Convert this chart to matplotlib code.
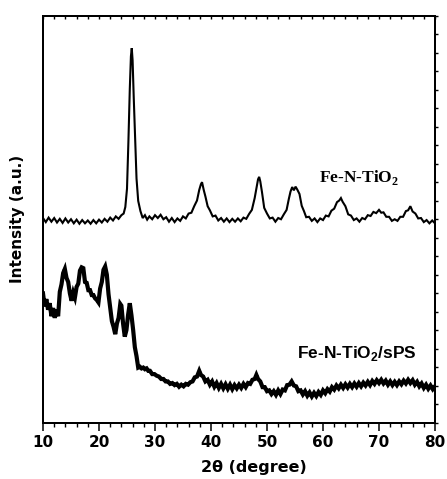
import matplotlib
matplotlib.use("Agg")
import matplotlib.pyplot as plt
from matplotlib.ticker import MultipleLocator

# XRD pattern of Fe-N-TiO2 (2theta in degrees, intensity in a.u.)
two_theta_tio2 = [
    10.0, 10.5, 11.0, 11.5, 12.0, 12.5, 13.0, 13.5, 14.0, 14.5, 15.0, 15.5, 16.0, 16.5,
    17.0, 17.5, 18.0, 18.5, 19.0, 19.5, 20.0, 20.5, 21.0, 21.5, 22.0, 22.5, 23.0, 23.5,
    24.0, 24.4, 24.7, 25.0, 25.25, 25.5, 25.7, 25.85, 26.0, 26.2, 26.45, 26.7, 27.0, 27.4,
    27.8, 28.2, 28.6, 29.0,
    29.5, 30.0, 30.5, 31.0, 31.5, 32.0, 32.5, 33.0, 33.5, 34.0, 34.5, 35.0, 35.5, 36.0,
    36.5, 37.0, 37.5,
    37.9, 38.2, 38.4, 38.7, 39.0, 39.4, 39.8,
    40.3, 40.8, 41.3, 41.8, 42.3, 42.8, 43.3, 43.8, 44.3, 44.8, 45.3, 45.8, 46.3, 46.8,
    47.3, 47.8,
    48.1, 48.4, 48.6, 48.8, 49.1, 49.5,
    50.0, 50.5, 51.0, 51.5, 52.0, 52.5, 53.0, 53.5,
    53.9, 54.2, 54.5, 54.8, 55.1, 55.4, 55.8, 56.2, 56.6,
    57.0, 57.5, 58.0, 58.5, 59.0, 59.5, 60.0, 60.5, 61.0, 61.5, 62.0, 62.5,
    62.9, 63.2, 63.5,
    64.0, 64.5, 65.0, 65.5, 66.0, 66.5, 67.0, 67.5, 68.0, 68.5, 69.0, 69.5, 70.0,
    70.4, 70.8,
    71.3, 71.8, 72.3, 72.8, 73.3, 73.8, 74.3, 74.8,
    75.2, 75.6,
    76.0, 76.5, 77.0, 77.5, 78.0, 78.5, 79.0, 79.5, 80.0,
]
intensity_tio2 = [
    503, 493, 504, 494, 503, 492, 501, 491, 502, 492, 500, 490, 499, 489,
    498, 490, 497, 489, 498, 490, 499, 492, 501, 494, 504, 497, 507, 501,
    510, 514, 530, 575, 690, 820, 900, 920, 890, 800, 700, 600, 545, 520,
    503, 510, 499, 507,
    500, 510, 503, 511, 500, 505, 494, 503, 493, 502, 496, 507, 502, 514,
    516, 532, 546,
    572, 586, 591, 572, 556, 532, 522,
    507, 509, 497, 503, 494, 502, 493, 501, 494, 502, 495, 504, 501, 513,
    523, 552,
    575, 598, 604, 593, 567, 528,
    514, 502, 504, 494, 503, 500, 512, 523,
    550, 568, 579, 571, 580, 573, 562, 533, 520,
    505, 506, 496, 502, 493, 502, 498, 509, 507, 521, 526, 542,
    546, 552, 543,
    532, 512, 509, 498, 502, 494, 503, 500, 510, 508, 518, 515, 523,
    516, 517,
    506, 506, 496, 500, 496, 506, 506, 520,
    522, 532,
    519, 514, 502, 503, 493, 498, 490, 497, 490,
]

# XRD pattern of the Fe-N-TiO2/sPS composite
two_theta_sps = [
    10.0, 10.3, 10.6, 10.9, 11.2, 11.5, 11.8, 12.1, 12.4, 12.7, 13.0, 13.3, 13.6, 13.9,
    14.2, 14.5, 14.8, 15.1, 15.4, 15.7, 16.0, 16.3, 16.6, 16.9, 17.2, 17.5, 17.8, 18.1,
    18.4, 18.7, 19.0, 19.3, 19.6, 19.9, 20.2, 20.5, 20.8, 21.1, 21.4, 21.7, 22.0, 22.3,
    22.6, 22.9, 23.2, 23.5, 23.8, 24.0, 24.3, 24.6, 24.9, 25.2, 25.5, 25.8, 26.1, 26.4,
    26.7, 27.0, 27.3, 27.6, 27.9, 28.2, 28.5, 28.8, 29.1, 29.5, 29.9, 30.3, 30.7, 31.1,
    31.5, 31.9, 32.3, 32.7, 33.1, 33.5, 33.9, 34.3, 34.7, 35.1, 35.5, 35.9, 36.3, 36.7,
    37.1, 37.5, 37.9, 38.2, 38.6, 39.0, 39.4, 39.8, 40.2, 40.6, 41.0, 41.4, 41.8, 42.2,
    42.6, 43.0, 43.4, 43.8, 44.2, 44.6, 45.0, 45.4, 45.8, 46.2, 46.6, 47.0, 47.4, 47.8,
    48.1, 48.4, 48.8, 49.2, 49.6, 50.0, 50.4, 50.8, 51.2, 51.6, 52.0, 52.4, 52.8, 53.2,
    53.6, 54.0, 54.4, 54.8, 55.2, 55.6, 56.0, 56.4, 56.8, 57.2, 57.6, 58.0, 58.4, 58.8,
    59.2, 59.6, 60.0, 60.4, 60.8, 61.2, 61.6, 62.0, 62.4, 62.8, 63.2, 63.6, 64.0, 64.4,
    64.8, 65.2, 65.6, 66.0, 66.4, 66.8, 67.2, 67.6, 68.0, 68.4, 68.8, 69.2, 69.6, 70.0,
    70.4, 70.8, 71.2, 71.6, 72.0, 72.4, 72.8, 73.2, 73.6, 74.0, 74.4, 74.8, 75.2, 75.6,
    76.0, 76.4, 76.8, 77.2, 77.6, 78.0, 78.4, 78.8, 79.2, 79.6, 80.0,
]
intensity_sps = [
    318, 286, 304, 278, 294, 262, 282, 258, 278, 262, 322, 340, 368, 378,
    356, 346, 318, 300, 320, 308, 334, 342, 374, 382, 380, 346, 344, 326,
    326, 314, 314, 306, 302, 296, 330, 346, 376, 384, 364, 316, 284, 250,
    236, 218, 244, 258, 292, 288, 244, 212, 228, 266, 294, 264, 228, 186,
    164, 136, 138, 134, 136, 132, 134, 128, 128, 120, 120, 116, 114, 108,
    108, 102, 102, 96, 98, 93, 96, 89, 94, 90, 96, 94, 100, 102,
    112, 114, 128, 118, 114, 102, 106, 94, 102, 89, 98, 86, 96, 85,
    95, 84, 94, 83, 93, 85, 94, 86, 96, 88, 98, 96, 106, 108,
    118, 108, 102, 88, 88, 78, 80, 71, 78, 69, 80, 71, 82, 80,
    93, 94, 102, 92, 90, 78, 80, 70, 78, 67, 75, 65, 74, 66,
    76, 69, 80, 73, 83, 77, 88, 82, 92, 85, 94, 86, 95, 87,
    96, 88, 97, 89, 98, 90, 99, 92, 101, 93, 103, 96, 105, 98,
    106, 97, 104, 94, 102, 93, 101, 93, 102, 95, 104, 97, 106, 98,
    105, 94, 101, 90, 97, 86, 94, 84, 92, 83, 90,
]

x_ticks = [10, 20, 30, 40, 50, 60, 70, 80]
y_tick_step = 1000 / 22

fig = plt.figure(figsize=(4.47, 4.79), dpi=100)
ax = fig.add_axes([43 / 447, 1 - 423 / 479, 392 / 447, 407.5 / 479])

ax.plot(two_theta_tio2, intensity_tio2, color="black", lw=1.5, solid_joinstyle="miter")
ax.plot(two_theta_sps, intensity_sps, color="black", lw=3.0, solid_joinstyle="miter")

ax.set_xlim(10, 80)
ax.set_ylim(0, 1000)

# bottom axis: labelled major ticks and minor ticks, both pointing outward
ax.set_xticks(x_ticks)
ax.xaxis.set_minor_locator(MultipleLocator(2))
ax.tick_params(axis="x", which="major", direction="out", length=6, width=1.1,
               pad=2.5, labelsize=11)
ax.tick_params(axis="x", which="minor", direction="out", length=3, width=1.0)
for lbl in ax.get_xticklabels():
    lbl.set_fontweight("bold")

# left axis: unlabelled inward ticks
ax.yaxis.set_major_locator(MultipleLocator(y_tick_step))
ax.tick_params(axis="y", which="major", direction="in", length=2.5, width=1.0,
               labelleft=False)

# top axis: small inward ticks
top = ax.twiny()
top.set_xlim(ax.get_xlim())
top.xaxis.set_major_locator(MultipleLocator(2))
top.tick_params(axis="x", direction="in", length=2.5, width=1.0, labeltop=False)
top.set_yticks([])

# right axis: small ticks pointing outward
right = ax.twinx()
right.set_ylim(ax.get_ylim())
right.yaxis.set_major_locator(MultipleLocator(y_tick_step))
right.tick_params(axis="y", direction="out", length=2.5, width=1.0, labelright=False)

for a in (ax, top, right):
    for sp in a.spines.values():
        sp.set_linewidth(1.3)

ax.set_xlabel("2θ (degree)", fontsize=11.5, fontweight="bold")
ax.xaxis.set_label_coords(0.538, -0.092)
ax.set_ylabel("Intensity (a.u.)", fontsize=11, fontweight="bold", labelpad=13)

ax.text(59.3, 591, r"Fe-N-TiO$_\mathregular{2}$", family="Liberation Serif",
        fontweight="bold", fontsize=12.5, va="baseline", ha="left")
ax.text(55.4, 160, r"Fe-N-TiO$_\mathregular{2}$/sPS", family="Liberation Sans",
        fontweight="bold", fontsize=12.5, va="baseline", ha="left")

fig.savefig("out.png", dpi=100)
